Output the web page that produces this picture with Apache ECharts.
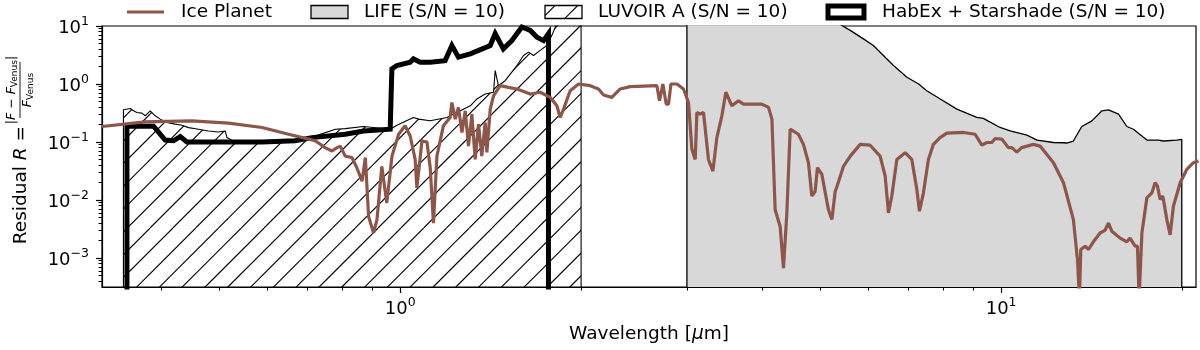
<!DOCTYPE html>
<html>
<head>
<meta charset="utf-8">
<title>Residual spectra</title>
<script src="https://cdn.jsdelivr.net/npm/echarts@6/dist/echarts.min.js"></script>
<style>
  html, body { margin: 0; padding: 0; background: #fff; }
  #chart { width: 1200px; height: 350px; }
</style>
</head>
<body>
<div id="chart"></div>
<script>
// ---- data (wavelength in micron, residual R) ----
var iceWave = [0.319, 0.376, 0.450, 0.518, 0.589, 0.652, 0.704, 0.722, 0.750, 0.770,
  0.785, 0.795, 0.810, 0.831, 0.847, 0.864, 0.875, 0.886, 0.903, 0.915,
  0.932, 0.950, 0.969, 0.994, 1.019, 1.039, 1.059, 1.066, 1.087, 1.108,
  1.122, 1.136, 1.151, 1.180, 1.211, 1.219, 1.235, 1.250, 1.267, 1.283,
  1.299, 1.316, 1.333, 1.350, 1.367, 1.385, 1.394, 1.412, 1.430, 1.467,
  1.514, 1.564, 1.646, 1.710, 1.777, 1.823, 1.846, 1.870, 1.918, 1.981,
  2.071, 2.138, 2.180, 2.250, 2.323, 2.414, 2.674, 2.701, 2.736, 2.771,
  2.796, 2.822, 2.887, 2.961, 3.018, 3.058, 3.097, 3.117, 3.157, 3.197,
  3.258, 3.314, 3.365, 3.430, 3.483, 3.564, 3.655, 3.726, 3.998, 4.101,
  4.155, 4.207, 4.288, 4.343, 4.400, 4.456, 4.599, 4.688, 4.779, 4.842,
  4.903, 4.947, 5.031, 5.160, 5.228, 5.295, 5.335, 5.465, 5.610, 5.827,
  6.053, 6.290, 6.412, 6.494, 6.578, 6.706, 6.923, 7.102, 7.240, 7.313,
  7.425, 7.568, 7.715, 7.915, 8.121, 8.658, 9.051, 9.288, 9.467, 9.650,
  9.772, 10.03, 10.28, 10.42, 10.62, 10.82, 11.32, 11.61, 12.22, 12.70,
  13.19, 13.40, 13.50, 13.57, 13.80, 13.97, 14.24, 14.61, 14.89, 15.09,
  15.28, 15.78, 16.19, 16.39, 16.71, 16.86, 16.97, 17.15, 17.48, 17.82,
  18.04, 18.20, 18.39, 18.58, 18.87, 19.11, 19.35, 19.86, 20.37, 20.89,
  21.30];
var iceResid = [0.185, 0.222, 0.231, 0.211, 0.178, 0.136, 0.112, 0.105, 0.080, 0.070,
  0.080, 0.085, 0.057, 0.054, 0.036, 0.021, 0.054, 0.0052, 0.0027, 0.0046,
  0.038, 0.0089, 0.057, 0.136, 0.190, 0.127, 0.050, 0.0162, 0.104, 0.100,
  0.036, 0.004, 0.057, 0.190, 0.265, 0.480, 0.248, 0.395, 0.146, 0.345,
  0.085, 0.302, 0.050, 0.203, 0.057, 0.217, 0.066, 0.369, 0.627, 0.935,
  0.876, 0.820, 0.670, 0.720, 0.588, 0.420, 0.265, 0.369, 0.766, 1.00,
  0.935, 0.820, 0.645, 0.588, 0.820, 0.900, 0.935, 0.513, 1.00, 0.450,
  0.450, 1.00, 1.00, 0.820, 0.480, 0.075, 0.050, 0.323, 0.302, 0.323,
  0.050, 0.0315, 0.119, 0.283, 0.720, 0.420, 0.513, 0.450, 0.450, 0.395,
  0.248, 0.0068, 0.0035, 0.00067, 0.006, 0.166, 0.136, 0.091, 0.044, 0.0117,
  0.014, 0.036, 0.0276, 0.0068, 0.0046, 0.014, 0.0174, 0.038, 0.057, 0.091,
  0.088, 0.057, 0.026, 0.006, 0.0117, 0.050, 0.0655, 0.050, 0.0152, 0.0064,
  0.0133, 0.050, 0.091, 0.119, 0.142, 0.146, 0.136, 0.088, 0.098, 0.098,
  0.115, 0.112, 0.080, 0.080, 0.067, 0.080, 0.091, 0.085, 0.044, 0.0198,
  0.0046, 0.00093, 0.0002, 0.0014, 0.0016, 0.0014, 0.0019, 0.0027, 0.003, 0.004,
  0.0029, 0.0022, 0.0019, 0.0022, 0.0016, 0.0016, 0.0002, 0.0027, 0.0109, 0.0133,
  0.0198, 0.0175, 0.0102, 0.0117, 0.0046, 0.0025, 0.0078, 0.0198, 0.0338, 0.044,
  0.047];

// LIFE sensitivity (closed at the bottom)
var lifeWave = [3.0, 3.0, 4.0, 5.0, 5.43, 5.61, 5.90, 6.13, 6.37, 6.62, 6.97, 7.29,
  7.52, 7.92, 8.44, 9.11, 9.34, 9.96, 10.35, 11.04, 11.47, 12.22, 12.70, 12.78,
  12.86, 13.19, 13.62, 14.16, 14.71, 15.09, 15.68, 16.19, 16.29, 16.60, 17.48,
  18.27, 18.39, 18.62, 19.60, 19.98, 19.98];
var lifeResid = [1e-5, 200, 60, 18, 10.2, 8.4, 6.0, 4.6, 3.1, 2.08, 1.31, 1.0,
  0.766, 0.55, 0.369, 0.265, 0.255, 0.178, 0.155, 0.131, 0.108, 0.098, 0.097, 0.101,
  0.096, 0.104, 0.185, 0.231, 0.345, 0.359, 0.302, 0.185, 0.195, 0.166, 0.108,
  0.108, 0.113, 0.104, 0.108, 0.111, 1e-5];

// LUVOIR A
var luvWave = [0.3463, 0.3463, 0.3554, 0.360, 0.3647, 0.3717, 0.3764, 0.3837, 0.3911,
  0.3988, 0.409, 0.4223, 0.4333, 0.4444, 0.4618, 0.4798, 0.4983, 0.5114, 0.5148,
  0.530, 0.600, 0.680, 0.720, 0.780, 0.810, 0.869, 0.9624, 0.9874, 1.052, 1.073,
  1.122, 1.196, 1.243, 1.308, 1.341, 1.385, 1.430, 1.439, 1.457, 1.495, 1.564,
  1.604, 1.635, 1.667, 1.710, 1.754, 1.788, 1.823, 1.900, 2.0, 2.0];
var luvResid = [1e-5, 0.359, 0.379, 0.345, 0.323, 0.315, 0.283, 0.345, 0.283,
  0.248, 0.217, 0.203, 0.195, 0.177, 0.166, 0.155, 0.149, 0.155, 0.120,
  0.101, 0.100, 0.104, 0.125, 0.166, 0.170, 0.185, 0.166, 0.195, 0.265, 0.248,
  0.232, 0.265, 0.323, 0.420, 0.550, 0.670, 0.720, 1.70, 0.935, 1.14, 2.08,
  3.1, 3.54, 3.1, 3.8, 4.6, 6.9, 11, 30, 50, 1e-5];

// HabEx + Starshade
var habWave = [0.351, 0.351, 0.3886, 0.4064, 0.4195, 0.4305, 0.4417, 0.5886, 0.6687,
  0.7129, 0.810, 0.869, 0.9624, 0.9687, 0.9874, 1.039, 1.052, 1.080, 1.122, 1.188,
  1.219, 1.250, 1.308, 1.412, 1.439, 1.485, 1.534, 1.594, 1.646, 1.689, 1.732,
  1.765, 1.765];
var habResid = [1e-5, 0.189, 0.187, 0.108, 0.105, 0.124, 0.100, 0.100, 0.105,
  0.119, 0.136, 0.155, 0.166, 1.82, 2.08, 2.38, 2.71, 2.38, 2.38, 2.53,
  4.6, 2.9, 3.3, 4.6, 7.4, 4.04, 5.6, 9.6, 8.4, 6.4, 5.6,
  7.4, 1e-5];

var xMajor = [1, 10];
var xMinor = [0.4, 0.5, 0.6, 0.7, 0.8, 0.9, 2, 3, 4, 5, 6, 7, 8, 9, 20];
var yMajor = [0.001, 0.01, 0.1, 1, 10];
var yMinor = [0.0004, 0.0005, 0.0006, 0.0007, 0.0008, 0.0009,
  0.002, 0.003, 0.004, 0.005, 0.006, 0.007, 0.008, 0.009,
  0.02, 0.03, 0.04, 0.05, 0.06, 0.07, 0.08, 0.09,
  0.2, 0.3, 0.4, 0.5, 0.6, 0.7, 0.8, 0.9,
  2, 3, 4, 5, 6, 7, 8, 9];

var X_MIN = 0.319, X_MAX = 21.1;
var Y_MIN = 0.000316, Y_MAX = 10;

var FONT = 'DejaVu Sans';
var BROWN = '#8c564b';

function pairs(xs, ys) {
  return xs.map(function (x, i) { return [x, ys[i]]; });
}

// 10^n labels, matplotlib style
function powLabel(v) {
  var e = Math.round(Math.log10(v));
  return '{b|10}{s|' + (e < 0 ? '\u2212' + (-e) : e) + '}';
}

// diagonal '/' hatch, 22.8 px apart
function makeHatch(phase) {
  var size = 114, step = 22.8;
  var c = document.createElement('canvas');
  c.width = size; c.height = size;
  var ctx = c.getContext('2d');
  ctx.strokeStyle = '#000';
  ctx.lineWidth = 1.1;
  for (var k = -2; k <= 11; k++) {
    var off = phase + k * step;
    ctx.beginPath();
    ctx.moveTo(off, 0);
    ctx.lineTo(off - size, size);
    ctx.stroke();
  }
  return c;
}
var hatch = makeHatch(13.3);

var tickRich = {
  b: {fontFamily: FONT, fontSize: 18, color: '#000', lineHeight: 22, verticalAlign: 'bottom'},
  s: {fontFamily: FONT, fontSize: 12.5, color: '#000', lineHeight: 12, verticalAlign: 'top'}
};

var fracRich = {
  n: {fontFamily: FONT, fontSize: 12.5, fill: '#000', lineHeight: 14, verticalAlign: 'top'},
  i: {fontFamily: FONT, fontSize: 12.5, fontStyle: 'italic', fill: '#000', lineHeight: 14, verticalAlign: 'top'},
  s: {fontFamily: FONT, fontSize: 9, fill: '#000', lineHeight: 7, verticalAlign: 'bottom'}
};

var chart = echarts.init(document.getElementById('chart'));

var option = {
  animation: false,
  backgroundColor: '#fff',
  grid: {left: 102, right: 4, top: 26, bottom: 63, show: true,
    borderColor: '#000', borderWidth: 1.2, backgroundColor: 'transparent'},
  xAxis: [{
    type: 'log', logBase: 10, min: X_MIN, max: X_MAX, position: 'bottom',
    name: 'Wavelength [{i|\u03bc}m]', nameLocation: 'middle', nameGap: 38,
    nameTextStyle: {fontFamily: FONT, fontSize: 18.5, color: '#000',
      rich: {i: {fontFamily: FONT, fontSize: 18.5, fontStyle: 'italic', color: '#000'}}},
    axisLine: {show: true, lineStyle: {color: '#000', width: 1.2}},
    axisTick: {show: true, length: 6, lineStyle: {color: '#000', width: 1.2}, customValues: xMajor},
    axisLabel: {customValues: xMajor, formatter: powLabel, margin: 9, rich: tickRich},
    splitLine: {show: false}
  }, {
    type: 'log', logBase: 10, min: X_MIN, max: X_MAX, position: 'bottom',
    axisLine: {show: false},
    axisTick: {show: true, length: 3.5, lineStyle: {color: '#000', width: 1}, customValues: xMinor},
    axisLabel: {show: false},
    splitLine: {show: false}
  }],
  yAxis: [{
    type: 'log', logBase: 10, min: Y_MIN, max: Y_MAX, position: 'left',
    axisLine: {show: true, lineStyle: {color: '#000', width: 1.2}},
    axisTick: {show: true, length: 6, lineStyle: {color: '#000', width: 1.2}, customValues: yMajor},
    axisLabel: {customValues: yMajor, formatter: powLabel, margin: 13, rich: tickRich},
    splitLine: {show: false}
  }, {
    type: 'log', logBase: 10, min: Y_MIN, max: Y_MAX, position: 'left',
    axisLine: {show: false},
    axisTick: {show: true, length: 3.5, lineStyle: {color: '#000', width: 1}, customValues: yMinor},
    axisLabel: {show: false},
    splitLine: {show: false}
  }],
  graphic: [
    // legend
    {type: 'line', shape: {x1: 127, y1: 12, x2: 164, y2: 12}, style: {stroke: BROWN, lineWidth: 3.2}},
    {type: 'text', x: 181, y: 12, style: {text: 'Ice Planet', fontFamily: FONT, fontSize: 18.5, fill: '#000', align: 'left', verticalAlign: 'middle'}},
    {type: 'rect', shape: {x: 311, y: 5.5, width: 37, height: 13}, style: {fill: '#d8d8d8', stroke: '#000', lineWidth: 1.3}},
    {type: 'text', x: 364, y: 12, style: {text: 'LIFE (S/N = 10)', fontFamily: FONT, fontSize: 18.5, fill: '#000', align: 'left', verticalAlign: 'middle'}},
    {type: 'rect', shape: {x: 545, y: 5.5, width: 37, height: 13}, style: {fill: {image: hatch, repeat: 'repeat'}, stroke: '#000', lineWidth: 1.3}},
    {type: 'text', x: 598, y: 12, style: {text: 'LUVOIR A (S/N = 10)', fontFamily: FONT, fontSize: 18.5, fill: '#000', align: 'left', verticalAlign: 'middle'}},
    {type: 'rect', shape: {x: 828, y: 6, width: 36, height: 12}, style: {fill: '#fff', stroke: '#000', lineWidth: 5}},
    {type: 'text', x: 882, y: 12, style: {text: 'HabEx + Starshade (S/N = 10)', fontFamily: FONT, fontSize: 18.5, fill: '#000', align: 'left', verticalAlign: 'middle'}},
    // y axis title, rotated
    {type: 'group', x: 21, y: 156, rotation: Math.PI / 2, children: [
      {type: 'text', x: 30, y: 0, style: {text: 'Residual {i|R} =', fontFamily: FONT, fontSize: 18.5, fill: '#000',
        align: 'right', verticalAlign: 'middle',
        rich: {i: {fontFamily: FONT, fontSize: 18.5, fontStyle: 'italic', fill: '#000'}}}},
      {type: 'line', shape: {x1: 38, y1: -1, x2: 94, y2: -1}, style: {stroke: '#000', lineWidth: 0.9}},
      {type: 'text', x: 66, y: -9, style: {text: '{n||}{i|F}{n| \u2212 }{i|F}{s|Venus}{n||}',
        align: 'center', verticalAlign: 'middle', rich: fracRich}},
      {type: 'text', x: 66, y: 7, style: {text: '{i|F}{s|Venus}',
        align: 'center', verticalAlign: 'middle', rich: fracRich}}
    ]}
  ],
  series: [{
    name: 'LIFE (S/N = 10)', type: 'line', data: pairs(lifeWave, lifeResid),
    symbol: 'none', silent: true, z: 2,
    lineStyle: {color: '#000', width: 1.3},
    areaStyle: {color: '#d8d8d8', opacity: 1, origin: 'start'}
  }, {
    name: 'LUVOIR A (S/N = 10)', type: 'line', data: pairs(luvWave, luvResid),
    symbol: 'none', silent: true, z: 3,
    lineStyle: {color: '#000', width: 1.1},
    areaStyle: {color: {image: hatch, repeat: 'repeat'}, opacity: 1, origin: 'start'}
  }, {
    name: 'HabEx + Starshade (S/N = 10)', type: 'line', data: pairs(habWave, habResid),
    symbol: 'none', silent: true, z: 4,
    lineStyle: {color: '#000', width: 5, join: 'miter'}
  }, {
    name: 'Ice Planet', type: 'line', data: pairs(iceWave, iceResid),
    symbol: 'none', silent: true, z: 5,
    lineStyle: {color: BROWN, width: 3.2}
  }]
};

chart.setOption(option);
</script>
</body>
</html>
